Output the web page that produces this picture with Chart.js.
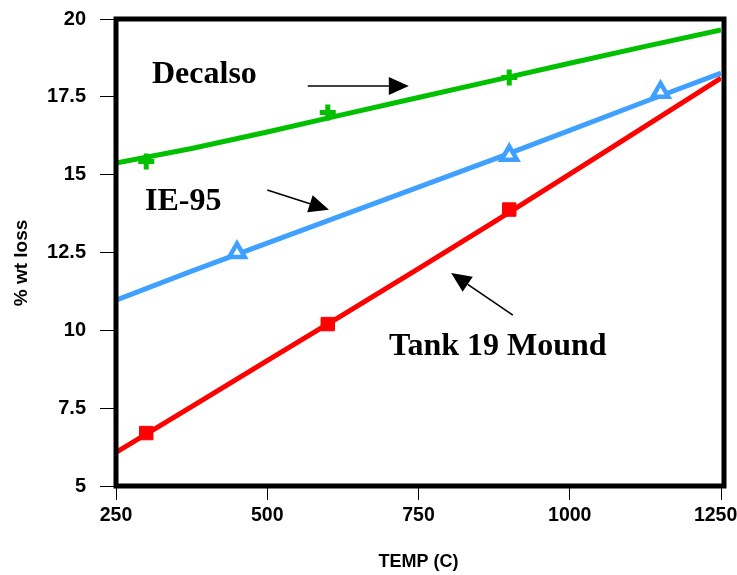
<!DOCTYPE html>
<html>
<head>
<meta charset="utf-8">
<script src="https://cdn.jsdelivr.net/npm/chart.js@4.4.1/dist/chart.umd.min.js"></script>
<style>html,body{margin:0;padding:0;background:#fff}canvas{display:block}</style>
</head>
<body>
<canvas id="c" width="737" height="575"></canvas>
<script>
// fitted curves, sampled every 125 C
const FIT_TEMP = [250, 375, 500, 625, 750, 875, 1000, 1125, 1250];
const DECALSO_FIT = [15.37, 15.84, 16.37, 16.93, 17.48, 18.03, 18.58, 19.12, 19.65];
const IE95_FIT = [10.97, 11.9, 12.8, 13.7, 14.6, 15.5, 16.42, 17.35, 18.26];
const TANK_FIT = [6.08, 7.55, 9.03, 10.5, 11.98, 13.48, 15.02, 16.56, 18.1];

// measured points
const DECALSO_T = [300, 600, 900], DECALSO_Y = [15.42, 17.0, 18.12];
const IE95_T = [450, 900, 1150], IE95_Y = [12.5, 15.62, 17.65];
const TANK_T = [300, 600, 900], TANK_Y = [6.7, 10.2, 13.88];

const X_TICKS = [250, 500, 750, 1000, 1250];
const Y_TICKS = [5, 7.5, 10, 12.5, 15, 17.5, 20];

// labels + arrows, in data units (temp, % wt loss)
const NOTE_TEXT = ['Decalso', 'IE-95', 'Tank 19 Mound'];
const NOTE_AT = [[309.5, 17.95], [297.9, 13.87], [701.2, 9.21]];
const ARROW_FROM = [[567, 17.85], [500, 14.51], [906, 10.49]];
const ARROW_TO = [[734, 17.85], [602, 13.87], [804, 11.84]];

const GREEN = '#00c000', BLUE = '#40a0ff', RED = '#ff0000', INK = '#000';
const SANS = 'Arial, "Liberation Sans", sans-serif';
const SERIF = '"Times New Roman", "Liberation Serif", serif';

const pts = (xs, ys) => xs.map((x, i) => ({ x, y: ys[i] }));
const fitLine = (ys, color) => ({ data: pts(FIT_TEMP, ys), borderColor: color, borderWidth: 5, pointRadius: 0, showLine: true, fill: false, order: 2 });
const marks = (xs, ys, style, color, opts) => Object.assign({
  data: pts(xs, ys), showLine: false, pointStyle: style, borderColor: color, backgroundColor: color, order: 1
}, opts);

const framePlugin = {
  id: 'frame',
  afterDatasetsDraw(chart) {
    const { ctx, chartArea: a, scales: { x, y } } = chart;
    ctx.save();
    ctx.strokeStyle = INK; ctx.lineWidth = 5;
    ctx.strokeRect(a.left, a.top, a.right - a.left + 3, a.bottom - a.top);

    // annotations
    ctx.fillStyle = INK;
    ctx.font = 'bold 32px ' + SERIF;
    ctx.textBaseline = 'alphabetic'; ctx.textAlign = 'left';
    NOTE_TEXT.forEach((t, i) => ctx.fillText(t, x.getPixelForValue(NOTE_AT[i][0]), y.getPixelForValue(NOTE_AT[i][1])));
    ctx.lineWidth = 1.6;
    ARROW_FROM.forEach((f, i) => {
      const x0 = x.getPixelForValue(f[0]), y0 = y.getPixelForValue(f[1]);
      const x1 = x.getPixelForValue(ARROW_TO[i][0]), y1 = y.getPixelForValue(ARROW_TO[i][1]);
      const ang = Math.atan2(y1 - y0, x1 - x0), L = 20, W = 9;
      const bx = x1 - L * Math.cos(ang), by = y1 - L * Math.sin(ang);
      ctx.beginPath(); ctx.moveTo(x0, y0); ctx.lineTo(bx, by); ctx.stroke();
      ctx.beginPath();
      ctx.moveTo(x1, y1);
      ctx.lineTo(bx + W * Math.sin(ang), by - W * Math.cos(ang));
      ctx.lineTo(bx - W * Math.sin(ang), by + W * Math.cos(ang));
      ctx.closePath(); ctx.fill();
    });

    // axis titles
    ctx.font = 'bold 18px ' + SANS;
    ctx.textAlign = 'center'; ctx.textBaseline = 'middle';
    ctx.fillText('TEMP (C)', (a.left + a.right) / 2, 562);
    ctx.font = 'bold 19px ' + SANS;
    ctx.translate(22, 263); ctx.rotate(-Math.PI / 2);
    ctx.fillText('% wt loss', 0, 0);
    ctx.restore();
  }
};

new Chart(document.getElementById('c'), {
  type: 'scatter',
  data: {
    datasets: [
      fitLine(DECALSO_FIT, GREEN),
      fitLine(IE95_FIT, BLUE),
      fitLine(TANK_FIT, RED),
      marks(DECALSO_T, DECALSO_Y, 'cross', GREEN, { pointRadius: 8, borderWidth: 5 }),
      marks(IE95_T, IE95_Y, 'triangle', BLUE, { pointRadius: 9, borderWidth: 4.5, backgroundColor: '#fff' }),
      marks(TANK_T, TANK_Y, 'rect', RED, { pointRadius: 9.5, borderWidth: 1 })
    ]
  },
  options: {
    responsive: false, animation: false, devicePixelRatio: 1,
    layout: { padding: { left: 0, top: 19, right: 16, bottom: 0 } },
    plugins: { legend: { display: false }, tooltip: { enabled: false } },
    scales: {
      x: {
        type: 'linear', min: 250, max: 1250,
        afterBuildTicks: (s) => { s.ticks = X_TICKS.map((v) => ({ value: v })); },
        afterFit: (s) => { s.height = 89; s.paddingLeft = 0; s.paddingRight = 0; },
        border: { display: false },
        grid: { drawOnChartArea: false, drawTicks: true, tickLength: 14, color: INK, lineWidth: 1 },
        // last label nudged left so it stays inside the canvas, like the original
        ticks: { color: INK, padding: 4, maxRotation: 0, autoSkip: false, font: { family: SANS, size: 19.5, weight: 'bold' },
          callback: (v) => v === X_TICKS[X_TICKS.length - 1] ? v + '  ' : String(v) }
      },
      y: {
        type: 'linear', min: 5, max: 20,
        afterBuildTicks: (s) => { s.ticks = Y_TICKS.map((v) => ({ value: v })); },
        afterFit: (s) => { s.width = 116; s.paddingTop = 0; s.paddingBottom = 0; },
        border: { display: false },
        grid: { drawOnChartArea: false, drawTicks: true, tickLength: 16, color: INK, lineWidth: 1 },
        ticks: { color: INK, padding: 14, autoSkip: false, font: { family: SANS, size: 20, weight: 'bold' }, callback: (v) => String(v) }
      }
    }
  },
  plugins: [framePlugin]
});
</script>
</body>
</html>
